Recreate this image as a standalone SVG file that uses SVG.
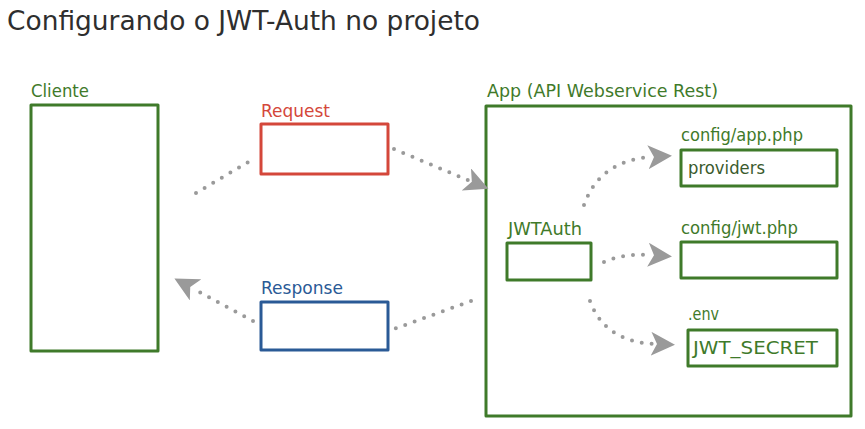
<svg xmlns="http://www.w3.org/2000/svg" width="865" height="429" viewBox="0 0 865 429">
<style>
.t{font-family:"DejaVu Sans","Noto Sans",sans-serif;font-size:17px}
.g{fill:#3f7a2a}
.box{fill:none;stroke-width:3;stroke-linejoin:round}
.gb{stroke:#3f7a2a}
.con{fill:none;stroke:#9a9a9a;stroke-width:4;stroke-linecap:round;stroke-dasharray:0 10}
</style>
<defs>
<marker id="ah" markerWidth="6" markerHeight="6" refX="1" refY="3" orient="auto" markerUnits="strokeWidth">
<path d="M0,0 L6,3 L0,6 L1.5,3 Z" fill="#9a9a9a"/>
</marker>
</defs>
<rect width="865" height="429" fill="#fff"/>
<text x="7" y="30" font-family="'DejaVu Sans','Noto Sans',sans-serif" font-size="27" fill="#2e2e2e" textLength="473" lengthAdjust="spacingAndGlyphs">Configurando o JWT-Auth no projeto</text>
<g id="cliente">
<text class="t g" x="31" y="97" textLength="58" lengthAdjust="spacingAndGlyphs">Cliente</text>
<rect class="box gb" x="31" y="105" width="127" height="246"/>
</g>
<g id="request">
<text class="t" x="261" y="117" fill="#d4473a" textLength="69" lengthAdjust="spacingAndGlyphs">Request</text>
<rect class="box" stroke="#d4473a" x="261" y="124" width="127" height="50"/>
</g>
<g id="response">
<text class="t" x="261" y="294" fill="#2a5a96" textLength="82" lengthAdjust="spacingAndGlyphs">Response</text>
<rect class="box" stroke="#2a5a96" x="261" y="302" width="127" height="48"/>
</g>
<g id="app">
<text class="t g" x="487" y="97" textLength="231" lengthAdjust="spacingAndGlyphs">App (API Webservice Rest)</text>
<rect class="box gb" x="486" y="106" width="365" height="310"/>
</g>
<g id="appphp">
<text class="t g" x="681" y="141" textLength="122" lengthAdjust="spacingAndGlyphs">config/app.php</text>
<rect class="box gb" x="681" y="150" width="156" height="36"/>
<text class="t" x="688" y="174" fill="#3a5a2c" textLength="77" lengthAdjust="spacingAndGlyphs">providers</text>
</g>
<g id="jwtauth">
<text class="t g" x="508" y="235" textLength="74" lengthAdjust="spacingAndGlyphs">JWTAuth</text>
<rect class="box gb" x="507" y="243" width="84" height="37"/>
</g>
<g id="jwtphp">
<text class="t g" x="681" y="234" textLength="117" lengthAdjust="spacingAndGlyphs">config/jwt.php</text>
<rect class="box gb" x="681" y="242" width="156" height="36"/>
</g>
<g id="env">
<text class="t g" x="688" y="320" textLength="31" lengthAdjust="spacingAndGlyphs">.env</text>
<rect class="box gb" x="688" y="330" width="149" height="36"/>
<text class="t g" x="693" y="354" textLength="125" lengthAdjust="spacingAndGlyphs">JWT_SECRET</text>
</g>
<g id="connectors">
<path class="con" d="M196,193 L255,158"/>
<path class="con" d="M394,149 L470,181" marker-end="url(#ah)"/>
<path class="con" d="M471,301 L394,329"/>
<path class="con" d="M253,321 L192,288" marker-end="url(#ah)"/>
<path class="con" d="M584,205 Q600,160 652,157" marker-end="url(#ah)"/>
<path class="con" d="M604,262 Q625,253 652,255" marker-end="url(#ah)"/>
<path class="con" d="M590,301 Q605,342 655,344" marker-end="url(#ah)"/>
</g>
</svg>
